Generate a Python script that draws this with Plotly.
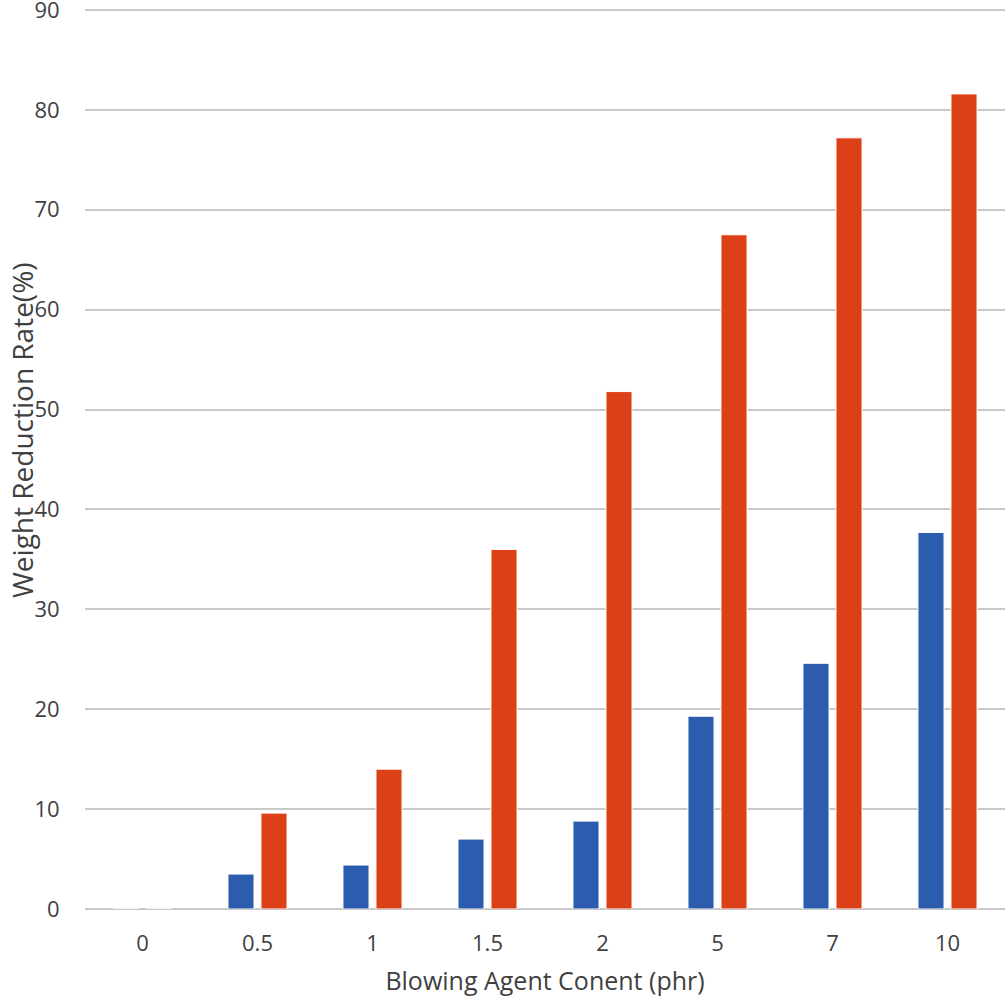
import plotly.graph_objects as go

categories = ["0", "0.5", "1", "1.5", "2", "5", "7", "10"]
series_a = [0, 3.5, 4.4, 7.0, 8.8, 19.3, 24.6, 37.7]
series_b = [0, 9.6, 14.0, 36.0, 51.8, 67.5, 77.2, 81.6]
y_ticks = [0, 10, 20, 30, 40, 50, 60, 70, 80, 90]

font_family = "Open Sans, Noto Sans, DejaVu Sans, sans-serif"
text_color = "#404040"
grid_color = "#c9c9c9"

fig = go.Figure()
fig.add_trace(go.Bar(x=categories, y=series_a, name="A",
                     marker=dict(color="#2b5cae", line=dict(color="white", width=1))))
fig.add_trace(go.Bar(x=categories, y=series_b, name="B",
                     marker=dict(color="#dc4016", line=dict(color="white", width=1))))

fig.update_layout(
    width=1005, height=997,
    margin=dict(l=85, r=0, t=7, b=88, pad=0),
    plot_bgcolor="white", paper_bgcolor="white",
    barmode="group", bargap=0.426, bargroupgap=0.21,
    showlegend=False,
    font=dict(family=font_family, color=text_color, size=22),
    xaxis=dict(
        type="category", automargin=False,
        title=dict(text="Blowing Agent Conent (phr)", font=dict(size=25, color=text_color), standoff=27),
        showgrid=False, showline=False, zeroline=False,
        ticks="outside", ticklen=15, tickcolor="rgba(0,0,0,0)",
        tickfont=dict(size=22, color=text_color),
    ),
    yaxis=dict(
        range=[0, 90.3], tickvals=y_ticks, automargin=False,
        ticklabeloverflow="allow",
        showgrid=True, gridcolor=grid_color, gridwidth=1.5,
        zeroline=True, zerolinecolor=grid_color, zerolinewidth=1.5,
        showline=False,
        ticks="outside", ticklen=20, tickcolor="rgba(0,0,0,0)",
        tickfont=dict(size=22, color=text_color),
    ),
    annotations=[dict(
        text="Weight Reduction Rate(%)", textangle=-90,
        xref="paper", yref="paper", x=0, y=0.5,
        xanchor="center", yanchor="middle", xshift=-63, yshift=28,
        showarrow=False, font=dict(size=28, color=text_color, family=font_family),
    )],
)

fig.write_html("out.html", config={"displayModeBar": False},
               post_script="document.body.style.margin='0px';")
